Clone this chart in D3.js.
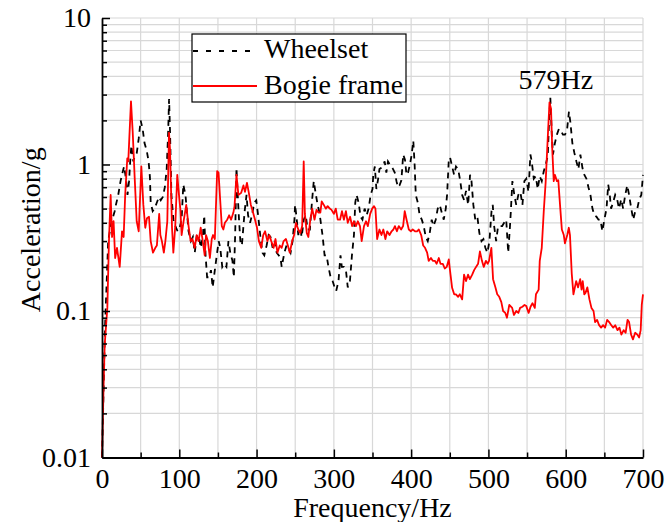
<!DOCTYPE html>
<html>
<head>
<meta charset="utf-8">
<script src="https://cdn.jsdelivr.net/npm/d3@7"></script>
<style>
  html, body { margin: 0; padding: 0; background: #fff; }
  svg { display: block; }
  text { font-family: "Liberation Serif", "Times New Roman", serif; }
</style>
</head>
<body>
<svg id="chart" width="667" height="522"></svg>
<script>
// ---------------- data ----------------
const seriesNames = ["Wheelset", "Bogie frame"];
const xTickValues = [0, 100, 200, 300, 400, 500, 600, 700];
const yTickValues = [0.01, 0.1, 1, 10];
const yTickLabels = ["0.01", "0.1", "1", "10"];
const peakLabel = "579Hz";
const peakFreq = 579;

const wheelsetFreq = [0,4,8,12,16.4,18,21,24,27,28.6,31,33,35,36.5,38,40.5,42.6,45,47.5,50,52.6,55,57.8,60.3,62,63,65.6,68,71,73.6,76,78.7,81.3,83.7,85.5,86.8,88,89.8,92.4,95,97.8,100,103,105.2,108,109.8,112,115,117.6,120,122.8,125.4,128,130.6,132.3,134,136,138.5,141,143.2,146,148.5,151,153,155.6,158,161,163.6,166,168.8,170.6,172.3,174,175.6,177.3,179,181,183,184.6,187,189,191.6,194,197,199.6,202,205,207.6,210,213,215.6,218,220.8,223.4,226,228.6,231,232.5,236,238.7,241,244,246.6,249,249.8,251.4,254,256.7,258.4,261,263.7,266,269,271.6,274,276.8,279,281,282.6,285.3,288,290.6,293,295.8,298.4,301,303,306,308.6,310.3,313,315.6,318,320.8,323.4,326,327.7,329.4,332,334.6,337,339.8,342.4,345,347.6,350,351,353,355,357,359,361.4,363.6,365.7,367.9,370,372.3,374.5,376.6,378.8,381,383,385,387.4,389.7,392,394,396,398.4,400.5,402.8,404.5,406,408.6,411,413.8,416.3,418.9,421.5,424,426.6,429,431.8,434.4,437,439.6,442.2,444.8,446.5,448.6,450.3,453,455.6,458,460.8,463.4,466,468.6,471,473.8,476.2,478,480.5,483,485.7,488.3,491,493.5,496,498.7,501.3,504,505.6,507.4,510,512.5,515,517.8,520.3,523,525.6,527.9,529,531,533.5,536,538.7,541.3,544,546.5,549,551.8,554.3,556,558.7,561.2,563.8,566.4,569,571.6,574.2,576.8,578.4,580.1,582,583.5,586,588.6,591.2,593.8,596.4,599,601.6,604.2,606,608.6,611.2,613.8,616.4,619,621.6,624.2,626.8,629.4,632,634.6,637.2,639.8,642.4,645,647.4,650,652.8,655,657,658.7,661.3,664,666.5,669,671.8,674.3,677,679.6,682,684.8,687.4,690,692.6,695.2,697.8,700];
const wheelsetAcc = [0.01,0.08,0.3,0.4,0.48,0.53,0.62,0.77,0.9,0.97,0.8,0.62,0.77,1.05,1.35,1.05,1.15,1.2,1.5,2.0,1.75,1.4,1.25,1.05,0.82,0.55,0.48,0.5,0.55,0.6,0.57,0.6,0.7,0.93,1.6,2.8,1.7,0.62,0.42,0.38,0.35,0.36,0.42,0.73,0.62,0.48,0.35,0.3,0.32,0.25,0.33,0.32,0.27,0.33,0.45,0.24,0.17,0.17,0.19,0.145,0.19,0.24,0.3,0.27,0.2,0.21,0.2,0.3,0.25,0.22,0.17,0.33,0.95,0.62,0.42,0.3,0.28,0.38,0.48,0.62,0.45,0.4,0.45,0.55,0.57,0.45,0.32,0.25,0.24,0.28,0.33,0.32,0.27,0.3,0.25,0.24,0.23,0.2,0.25,0.28,0.27,0.25,0.3,0.42,0.53,0.45,0.33,0.36,0.32,0.42,0.45,0.36,0.36,0.55,0.77,0.62,0.53,0.48,0.42,0.33,0.24,0.24,0.2,0.17,0.16,0.145,0.137,0.16,0.24,0.2,0.2,0.19,0.145,0.16,0.24,0.33,0.55,0.62,0.55,0.44,0.42,0.5,0.45,0.5,0.62,0.68,0.85,0.97,0.68,0.78,0.93,0.95,0.97,1.05,0.88,1.05,1.0,0.97,0.93,0.88,0.77,0.7,0.72,0.78,1.17,1.08,0.85,0.88,1.0,1.15,1.45,1.0,0.62,0.55,0.45,0.42,0.38,0.32,0.3,0.34,0.42,0.38,0.42,0.5,0.53,0.47,0.42,0.5,0.62,1.05,1.12,0.97,0.85,0.97,0.93,0.78,0.62,0.57,0.66,0.53,0.85,0.78,0.53,0.42,0.44,0.34,0.3,0.31,0.27,0.25,0.3,0.48,0.53,0.38,0.3,0.38,0.38,0.38,0.4,0.42,0.25,0.38,0.48,0.77,0.62,0.53,0.62,0.65,0.53,0.77,0.8,0.65,1.17,1.05,0.8,0.83,0.68,0.83,0.77,0.9,1.0,1.15,1.95,2.85,1.6,1.17,1.4,1.6,1.75,1.7,1.6,1.6,1.7,2.3,1.95,1.4,1.2,1.05,0.93,1.17,0.95,0.85,0.8,0.7,0.62,0.5,0.45,0.44,0.42,0.42,0.35,0.42,0.5,0.73,0.62,0.5,0.55,0.62,0.58,0.5,0.58,0.5,0.62,0.72,0.62,0.5,0.42,0.48,0.5,0.58,0.62,0.85];

const bogieFreq = [0,2,3.5,6.9,9,11.2,13,15,17,19.4,22.9,25.9,28,30,32.7,34,37.5,39.7,42.3,44.9,47.5,50.9,53.5,56,58.2,60.8,63,66,69,71,74,75.5,77.5,80,82,84.5,86.7,88,90.6,92.3,94.8,97.4,99.6,101.6,103,105.6,109,112,114.7,117,120,122.5,125,127.7,130,132.9,134.6,137,139.6,142,143.7,146,149,150.8,152.5,155,157,159,162,164.5,167,170,171.5,174,176.5,180,183,185,187.6,190,192.6,195,198,200.6,203,206,208.6,211,214,216.5,219,222,224.5,227,230,232.5,235,238,240.5,243,246,248.6,251,254,256.5,259,261,262.5,265,267,269.5,272,275,277.5,280,282.5,284.3,287,289.6,292,294.7,297,300,302.5,305,308,310.5,313,315.6,318,321,323.6,326,328.6,331,333.8,336,339,341.6,344,347,349.6,352,353.8,356,359,361.6,364,366.7,369,372,374.7,377,379,381.6,384,387,389.6,391.7,394.5,397,399.6,402,405,407.6,410,413,415.6,418,420.7,422.7,425.6,428,430.7,433,435.8,438,441,443.5,446,448.7,450,453,455.7,458,460.8,463,466,468.5,471,473.6,476,479,481.5,484,486.6,489,491.6,494,496.7,499,500.8,503.8,506,509,511.4,514,516.7,519,521.8,524,527,530.7,533,536,538.7,541,544,546.7,549,552,554.5,557,560,561.5,565,566.4,569,571.6,574,576.7,579,581,582.5,584.5,586,588.6,590.4,593,595,597.5,599,602,604,605.5,607.8,610,613.5,616,618.7,620.5,622,624,625.6,628,630.7,633.3,636,638,640.6,643.2,645.8,648.4,651,653.6,656.2,659,661.5,664,667,669.6,672,675,677.5,680,682,684.6,687,689.9,692.6,695,697,698.4,700];
const bogieAcc = [0.01,0.03,0.059,0.105,0.3,0.62,0.32,0.41,0.23,0.27,0.2,0.35,0.32,0.62,1.1,1.05,2.7,1.68,0.81,0.41,0.35,0.97,0.53,0.37,0.43,0.44,0.3,0.25,0.27,0.28,0.46,0.33,0.3,0.25,0.3,0.41,1.65,1.27,0.37,0.25,0.38,0.85,0.62,0.48,0.33,0.41,0.53,0.38,0.3,0.31,0.27,0.33,0.3,0.37,0.31,0.24,0.33,0.3,0.23,0.31,0.33,0.31,0.9,0.88,0.62,0.38,0.36,0.4,0.42,0.45,0.42,0.47,0.52,0.85,0.62,0.64,0.72,0.65,0.75,0.64,0.53,0.48,0.42,0.37,0.3,0.27,0.33,0.35,0.3,0.33,0.3,0.27,0.31,0.25,0.28,0.27,0.3,0.31,0.28,0.25,0.3,0.33,0.4,0.36,0.34,0.38,1.05,0.46,0.34,0.32,0.42,0.5,0.42,0.49,0.47,0.47,0.56,0.53,0.5,0.52,0.5,0.49,0.46,0.5,0.42,0.42,0.48,0.42,0.48,0.4,0.44,0.38,0.41,0.38,0.41,0.38,0.3,0.38,0.41,0.38,0.46,0.5,0.52,0.5,0.31,0.36,0.33,0.36,0.31,0.35,0.33,0.35,0.36,0.38,0.35,0.38,0.36,0.38,0.48,0.41,0.36,0.35,0.36,0.35,0.35,0.36,0.33,0.28,0.27,0.25,0.22,0.23,0.22,0.22,0.21,0.23,0.21,0.21,0.195,0.2,0.225,0.195,0.144,0.13,0.13,0.125,0.13,0.12,0.177,0.16,0.177,0.165,0.177,0.19,0.2,0.21,0.255,0.22,0.2,0.22,0.21,0.22,0.27,0.165,0.145,0.13,0.125,0.115,0.1,0.097,0.09,0.11,0.105,0.094,0.1,0.097,0.105,0.107,0.11,0.108,0.097,0.107,0.113,0.105,0.13,0.14,0.22,0.27,0.48,0.75,1.5,2.65,2.4,1.3,0.77,0.85,0.77,0.78,0.5,0.36,0.33,0.29,0.33,0.37,0.33,0.18,0.13,0.16,0.145,0.165,0.14,0.16,0.13,0.133,0.145,0.12,0.105,0.1,0.084,0.087,0.08,0.077,0.08,0.077,0.087,0.084,0.08,0.077,0.08,0.074,0.077,0.069,0.074,0.071,0.087,0.084,0.069,0.064,0.071,0.069,0.066,0.074,0.11,0.13];

// ---------------- chart ----------------
const svg = d3.select("#chart");
svg.append("rect").attr("width", 667).attr("height", 522).attr("fill", "#fff");

const x = d3.scaleLinear().domain([0, 700]).range([102, 643]);
const y = d3.scaleLog().domain([0.01, 10]).range([457.5, 18]);

const fontSize = 28;
const serif = '"Liberation Serif", "Times New Roman", serif';
const gridColor = "#d8d8d8";

// minor log values
const minorVals = [];
[0.01, 0.1, 1].forEach(d => { for (let k = 2; k <= 9; k++) minorVals.push(+(k * d).toPrecision(3)); });

// grid
const grid = svg.append("g");
d3.range(50, 701, 50).forEach(f => {
  grid.append("line").attr("x1", x(f)).attr("x2", x(f)).attr("y1", y(10)).attr("y2", y(0.01))
    .attr("stroke", gridColor).attr("stroke-width", 1.2);
});
minorVals.concat([0.1, 1, 10]).forEach(v => {
  grid.append("line").attr("x1", x(0)).attr("x2", x(700)).attr("y1", y(v)).attr("y2", y(v))
    .attr("stroke", gridColor).attr("stroke-width", 1.2);
});

// lines
const line = d3.line().x(d => x(d[0])).y(d => y(d[1]));
const wheelData = wheelsetFreq.map((f, i) => [f, wheelsetAcc[i]]);
const bogieData = bogieFreq.map((f, i) => [f, bogieAcc[i]]);

svg.append("path").datum(wheelData).attr("d", line)
  .attr("fill", "none").attr("stroke", "#000").attr("stroke-width", 1.8)
  .attr("stroke-dasharray", "6,5");
svg.append("path").datum(bogieData).attr("d", line)
  .attr("fill", "none").attr("stroke", "#ff0000").attr("stroke-width", 1.8)
  .attr("stroke-linejoin", "round");

// axes
const yAxis = d3.axisLeft(y).tickValues(yTickValues)
  .tickFormat((d, i) => yTickLabels[i]).tickSize(-8).tickSizeOuter(0).tickPadding(11);
const gy = svg.append("g").attr("transform", `translate(${x(0)},0)`).call(yAxis);
const yMinor = d3.axisLeft(y).tickValues(minorVals).tickFormat("").tickSize(-5).tickSizeOuter(0);
const gy2 = svg.append("g").attr("transform", `translate(${x(0)},0)`).call(yMinor);
gy2.select(".domain").remove();

const xAxis = d3.axisBottom(x).tickValues(xTickValues).tickFormat(d3.format("d"))
  .tickSize(-8).tickSizeOuter(0).tickPadding(11);
const gx = svg.append("g").attr("transform", `translate(0,${y(0.01)})`).call(xAxis);
const xMinor = d3.axisBottom(x).tickValues(d3.range(50, 700, 100)).tickFormat("").tickSize(-5).tickSizeOuter(0);
const gx2 = svg.append("g").attr("transform", `translate(0,${y(0.01)})`).call(xMinor);
gx2.select(".domain").remove();

[gy, gy2, gx, gx2].forEach(g => {
  g.attr("font-family", serif).attr("font-size", fontSize);
  g.selectAll("line").attr("stroke", "#000").attr("stroke-width", 1.5);
  g.selectAll(".domain").attr("stroke", "#000").attr("stroke-width", 1.8);
  g.selectAll("text").attr("font-size", fontSize).attr("fill", "#000").attr("font-family", serif);
});

// axis titles
svg.append("text").attr("x", (x(0) + x(700)) / 2).attr("y", 517)
  .attr("text-anchor", "middle").attr("font-family", serif).attr("font-size", fontSize).text("Frequency/Hz");
svg.append("text").attr("transform", `translate(40,${(y(10) + y(0.01)) / 2 - 8}) rotate(-90)`)
  .attr("text-anchor", "middle").attr("font-family", serif).attr("font-size", fontSize).text("Acceleration/g");

// legend
const lg = svg.append("g");
lg.append("rect").attr("x", 192).attr("y", 34).attr("width", 214).attr("height", 68)
  .attr("fill", "#fff").attr("stroke", "#000").attr("stroke-width", 1.2);
lg.append("line").attr("x1", 193).attr("x2", 257).attr("y1", 51).attr("y2", 51)
  .attr("stroke", "#000").attr("stroke-width", 1.8).attr("stroke-dasharray", "5,8");
lg.append("line").attr("x1", 193).attr("x2", 257).attr("y1", 86).attr("y2", 86)
  .attr("stroke", "#ff0000").attr("stroke-width", 1.8);
lg.append("text").attr("x", 264).attr("y", 58).attr("font-family", serif).attr("font-size", fontSize).text(seriesNames[0]);
lg.append("text").attr("x", 264).attr("y", 94).attr("font-family", serif).attr("font-size", fontSize).text(seriesNames[1]);

// peak annotation
svg.append("text").attr("x", x(peakFreq) - 31).attr("y", 89).attr("font-family", serif)
  .attr("font-size", fontSize).text(peakLabel);
</script>
</body>
</html>
